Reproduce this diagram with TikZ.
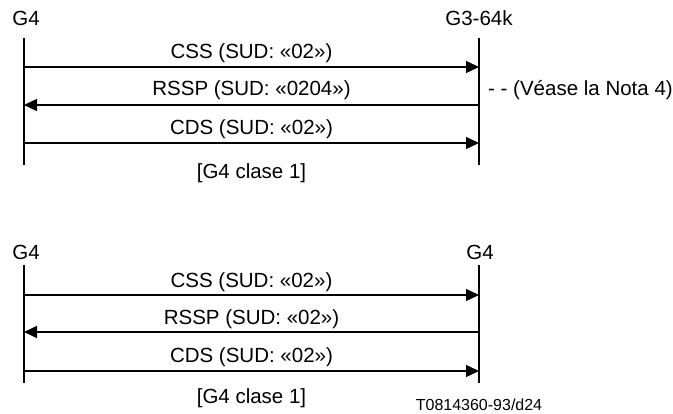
\documentclass[tikz,border=0pt]{standalone}
\usepackage{fontspec}
\setmainfont{Liberation Sans}
\usetikzlibrary{arrows.meta}
\begin{document}
\begin{tikzpicture}[x=1pt,y=-1pt,
  lifeline/.style={line width=1.4pt},
  msg/.style={line width=1.4pt,-{Triangle[length=13pt,width=12pt]}},
  lbl/.style={font=\fontsize{20.5}{24}\selectfont, inner sep=0pt},
  ref/.style={font=\fontsize{16}{19}\selectfont, inner sep=0pt}]
\useasboundingbox (0,0) rectangle (673,414);

% ---- upper exchange: G4 <-> G3-64k ----
\node[lbl] (ua) at (26,18) {G4};
\node[lbl] (ub) at (479,18) {G3-64k};
\coordinate (uaT) at (24,38);  \coordinate (uaB) at (24,165);
\coordinate (ubT) at (479,38); \coordinate (ubB) at (479,165);
\draw[lifeline] (uaT) -- (uaB);
\draw[lifeline] (ubT) -- (ubB);

\coordinate (ua1) at (24,67);  \coordinate (ub1) at (479,67);
\coordinate (ua2) at (24,105); \coordinate (ub2) at (479,105);
\coordinate (ua3) at (24,143); \coordinate (ub3) at (479,143);
\draw[msg] (ua1) -- (ub1);
\draw[msg] (ub2) -- (ua2);
\draw[msg] (ua3) -- (ub3);
\node[lbl] (um1) at (251.5,53) {CSS (SUD: «02»)};
\node[lbl] (um2) at (251.5,90) {RSSP (SUD: «0204»)};
\node[lbl] (um3) at (251.5,129) {CDS (SUD: «02»)};
\node[lbl,anchor=west] (unote) at (488,90) {- - (Véase la Nota 4)};
\node[lbl] (ucls) at (251.5,173) {[G4 clase 1]};

% ---- lower exchange: G4 <-> G4 ----
\node[lbl] (la) at (26,252) {G4};
\node[lbl] (lb) at (480,252) {G4};
\coordinate (laT) at (24,265);  \coordinate (laB) at (24,383);
\coordinate (lbT) at (479,265); \coordinate (lbB) at (479,383);
\draw[lifeline] (laT) -- (laB);
\draw[lifeline] (lbT) -- (lbB);

\coordinate (la1) at (24,295);  \coordinate (lb1) at (479,295);
\coordinate (la2) at (24,332);  \coordinate (lb2) at (479,332);
\coordinate (la3) at (24,371);  \coordinate (lb3) at (479,371);
\draw[msg] (la1) -- (lb1);
\draw[msg] (lb2) -- (la2);
\draw[msg] (la3) -- (lb3);
\node[lbl] (lm1) at (251.5,282) {CSS (SUD: «02»)};
\node[lbl] (lm2) at (251.5,319) {RSSP (SUD: «02»)};
\node[lbl] (lm3) at (251.5,357) {CDS (SUD: «02»)};
\node[lbl] (lcls) at (251.5,398) {[G4 clase 1]};
\node[ref] (code) at (479,405) {T0814360-93/d24};
\end{tikzpicture}
\end{document}
